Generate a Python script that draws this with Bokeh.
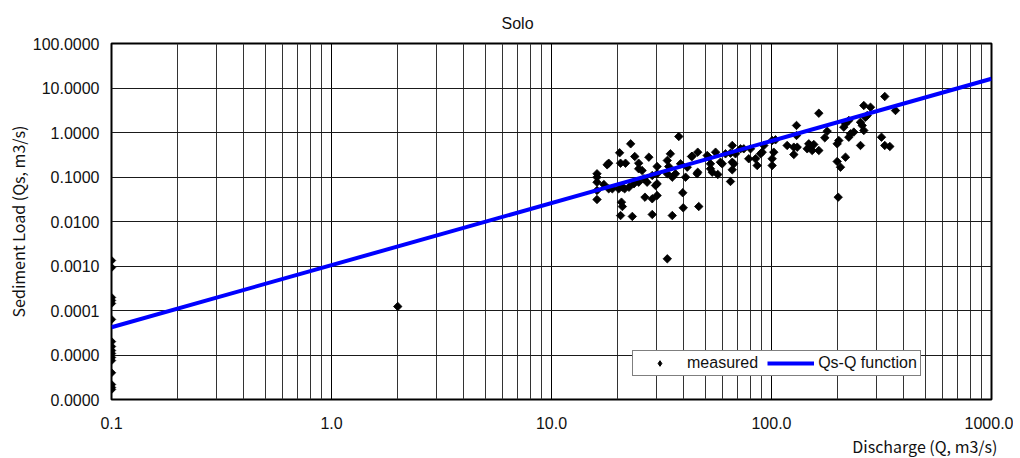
from math import pi
from bokeh.plotting import figure
from bokeh.models import (FixedTicker, PrintfTickFormatter, Legend, LegendItem, Title,
                          ColumnDataSource)
from bokeh.embed import file_html
from bokeh.resources import INLINE

# ---- data ----
x_major_ticks = [0.1, 1, 10, 100, 1000]
x_minor_ticks = [0.2, 0.3, 0.4, 0.5, 0.6, 0.7, 0.8, 0.9,
                 2, 3, 4, 5, 6, 7, 8, 9,
                 20, 30, 40, 50, 60, 70, 80, 90,
                 200, 300, 400, 500, 600, 700, 800, 900]
y_major_ticks = [1e-6, 1e-5, 1e-4, 1e-3, 1e-2, 1e-1, 1, 10, 100]

# measured points at the left edge (Q = 0.1)
q_low = [0.1] * 16
qs_low = [0.00133, 0.000925, 0.000196, 0.000168, 0.000144, 0.000063, 0.000020, 0.0000155,
          0.0000126, 0.0000108, 0.0000088, 0.0000075, 0.0000040, 0.00000217, 0.00000186, 0.00000168]

# isolated point
q_mid = [2.0]
qs_mid = [0.000123]

# main cluster
q_cluster = [37.9, 22.9, 18.2, 17.9, 20.4, 20.6, 21.7, 23.9, 24.9, 27.7,
             24.9, 25.8, 30.2, 33.6, 34.7, 34.1, 38.6, 43.3, 41.4, 16.1,
             16.1, 16.1, 16.1, 16.1, 17.3, 18.2, 18.9, 20.2, 21.0, 21.5,
             22.5, 23.7, 24.9, 26.3, 27.2, 29.7, 30.2, 28.7, 30.2, 33.6,
             35.4, 36.6, 40.7, 26.6, 28.7, 30.2, 39.5, 20.8, 21.0, 20.6,
             23.3, 28.7, 35.4, 39.7, 33.6,
             46.2, 51.0, 51.9, 55.7, 58.6, 59.7, 52.8, 52.8, 53.8, 46.2,
             45.9, 57.0, 61.8, 65.1, 68.6, 66.3, 72.3, 74.8, 80.3, 66.3,
             67.4, 66.3, 65.1, 78.8, 84.6, 86.1, 89.1, 92.3, 90.7, 100.7,
             104.3, 100.7, 102.4, 100.7, 117.8, 126.3, 126.3, 129.9, 129.9, 46.7,
             43.6,
             164.1, 179.1, 174.7, 147.7, 145.3, 150.4, 153.1, 164.1, 155.7, 216.9,
             213.1, 224.6, 202.3, 198.9, 228.6, 236.6, 224.6, 253.8, 258.4, 262.8,
             267.5, 262.8, 281.8, 272.3, 253.8, 216.9, 198.9, 205.9, 201.0, 316.2,
             327.3, 345.0, 327.3, 366.1, 130.9]
qs_cluster = [0.813, 0.557, 0.204, 0.188, 0.350, 0.204, 0.204, 0.289, 0.204, 0.279,
              0.153, 0.140, 0.172, 0.235, 0.332, 0.172, 0.198, 0.289, 0.166, 0.118,
              0.099, 0.0764, 0.0498, 0.0312, 0.0678, 0.0543, 0.0543, 0.0543, 0.0590, 0.0543,
              0.0590, 0.0703, 0.0764, 0.0911, 0.0764, 0.0644, 0.0703, 0.108, 0.118, 0.118,
              0.099, 0.118, 0.099, 0.0352, 0.0324, 0.0384, 0.0442, 0.0272, 0.0217, 0.0136,
              0.0130, 0.0144, 0.0136, 0.0203, 0.00145,
              0.361, 0.304, 0.279, 0.361, 0.215, 0.198, 0.198, 0.153, 0.128, 0.128,
              0.118, 0.114, 0.332, 0.343, 0.332, 0.511, 0.430, 0.430, 0.430, 0.215,
              0.198, 0.145, 0.0793, 0.257, 0.257, 0.181, 0.332, 0.511, 0.361, 0.661,
              0.685, 0.257, 0.361, 0.181, 0.511, 0.468, 0.320, 1.44, 0.857, 0.0217,
              0.293,
              2.71, 1.07, 0.760, 0.557, 0.430, 0.511, 0.394, 0.394, 0.537, 1.57,
              1.32, 1.86, 0.661, 0.557, 0.935, 1.02, 0.784, 1.70, 1.44, 1.11,
              2.21, 4.04, 3.70, 2.41, 0.511, 0.279, 0.223, 0.166, 0.0352, 0.784,
              0.511, 0.485, 6.44, 3.12, 0.468]

# Qs-Q function endpoints
q_line = [0.1, 1000]
qs_line = [4.2e-5, 16.1]

series_labels = ["measured", "Qs-Q function"]
chart_title = "Solo"

q_all = q_low + q_mid + q_cluster
qs_all = qs_low + qs_mid + qs_cluster

TICK_FONT = "Liberation Sans"
LABEL_FONT = "Noto Sans CJK JP"
TXT = "#111111"

p = figure(x_axis_type="log", y_axis_type="log",
           x_range=(0.1, 1000), y_range=(1e-6, 100),
           frame_width=880, frame_height=356,
           min_border_left=111, min_border_right=22, min_border_top=43, min_border_bottom=51,
           output_backend="svg", toolbar_location=None,
           background_fill_color="white", border_fill_color="white")

p.title.text = chart_title
p.title.align = "left"
p.title.offset = 390
p.title.standoff = 24
p.title.text_font = TICK_FONT
p.title.text_font_size = "16px"
p.title.text_font_style = "normal"
p.title.text_color = TXT

p.outline_line_color = "black"
p.outline_line_width = 2

p.xaxis.ticker = FixedTicker(ticks=x_major_ticks, minor_ticks=x_minor_ticks)
p.yaxis.ticker = FixedTicker(ticks=y_major_ticks, minor_ticks=[])
p.xaxis.formatter = PrintfTickFormatter(format="%.1f")
p.yaxis.formatter = PrintfTickFormatter(format="%.4f")

for ax in (p.xaxis, p.yaxis):
    ax.axis_line_color = None
    ax.major_tick_line_color = None
    ax.minor_tick_line_color = None
    ax.major_tick_out = 0
    ax.minor_tick_out = 0
    ax.major_label_text_font = TICK_FONT
    ax.major_label_text_font_size = "16px"
    ax.major_label_text_color = TXT
p.xaxis.major_label_standoff = 17
p.yaxis.major_label_standoff = 12

p.yaxis.axis_label = "Sediment Load (Qs, m3/s)"
p.yaxis.axis_label_text_font = LABEL_FONT
p.yaxis.axis_label_text_font_size = "16px"
p.yaxis.axis_label_text_font_style = "normal"
p.yaxis.axis_label_text_color = TXT
p.yaxis.axis_label_standoff = 0

p.add_layout(Title(text="Discharge (Q, m3/s)", align="right", offset=-6,
                   text_font=LABEL_FONT, text_font_size="16px", text_font_style="normal",
                   text_color=TXT, standoff=0), "below")

p.xgrid.grid_line_color = "#000000"
p.xgrid.grid_line_width = 1
p.xgrid.minor_grid_line_color = "#333333"
p.xgrid.minor_grid_line_width = 1
p.ygrid.grid_line_color = "#1a1a1a"
p.ygrid.grid_line_width = 1

src = ColumnDataSource(dict(q=q_all, qs=qs_all))
pts = p.scatter("q", "qs", source=src, marker="square", angle=pi / 4, size=6,
                fill_color="black", line_color="black", line_width=0.8)
ln = p.line(q_line, qs_line, line_color="#0000FF", line_width=4)

# legend key renderer (hidden; gives the diamond shape in the legend)
key = p.scatter("q", "qs", source=src, marker="diamond", size=11,
                fill_color="black", line_color="black")
key.visible = False

legend = Legend(items=[LegendItem(label=series_labels[0], renderers=[key]),
                       LegendItem(label=series_labels[1], renderers=[ln])],
                orientation="horizontal", location=(521, 23),
                glyph_width=47, glyph_height=14, label_standoff=4, spacing=9,
                padding=3, margin=0, label_height=14,
                border_line_color="black", border_line_width=1,
                background_fill_color="white", background_fill_alpha=1,
                label_text_font=TICK_FONT, label_text_font_size="16px",
                label_text_color=TXT)
p.add_layout(legend, "center")

open("out.html", "w").write(file_html(p, INLINE))
